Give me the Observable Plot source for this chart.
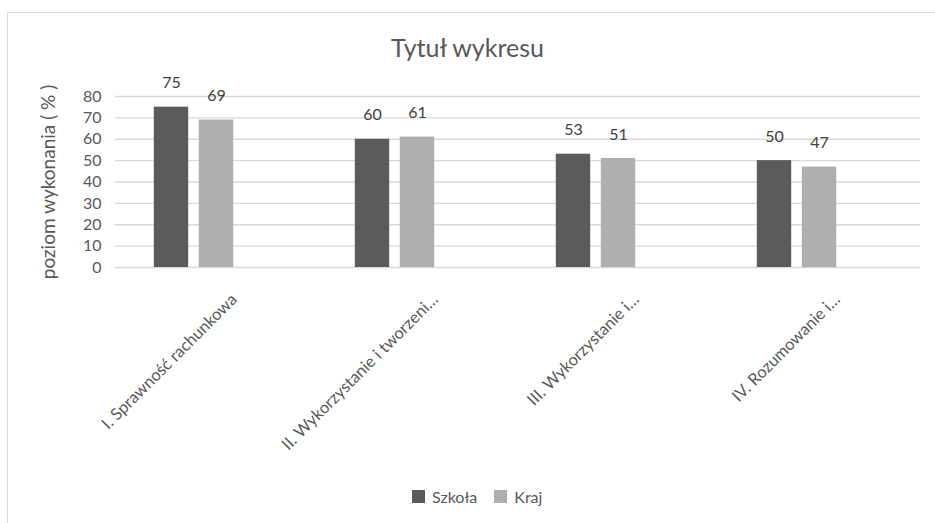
<!DOCTYPE html>
<html>
<head>
<meta charset="utf-8">
<script src="https://cdn.jsdelivr.net/npm/d3@7"></script>
<script src="https://cdn.jsdelivr.net/npm/@observablehq/plot@0.6"></script>
<style>
  body { margin: 0; background: #fff; font-family: Lato, "Open Sans", sans-serif; }
  #wrap { position: relative; width: 935px; height: 523px; overflow: hidden; background: #fff; }
  #frame { position: absolute; left: 7px; top: 12px; width: 940px; height: 520px; border: 1px solid #d9d9d9; pointer-events: none; z-index: 2; }
  #title { height: 70px; box-sizing: border-box; padding-top: 32px; font-size: 25px; line-height: 30px; text-align: center; color: #595959; }
  #legend { height: 53px; display: flex; align-items: center; font-size: 16px; color: #595959; }
  .sw { display: inline-block; width: 13px; height: 13px; margin-right: 7px; }
  .item { display: inline-flex; align-items: center; }
</style>
</head>
<body>
<div id="wrap">
  <div id="frame"></div>
  <div id="title">Tytuł wykresu</div>
  <div id="chart"></div>
  <div id="legend"></div>
</div>
<script>
const categories = [
  "I. Sprawność rachunkowa",
  "II. Wykorzystanie i tworzeni…",
  "III. Wykorzystanie i…",
  "IV. Rozumowanie i…"
];
const seriesNames = ["Szkoła", "Kraj"];
const szkola = [75, 60, 53, 50];
const kraj = [69, 61, 51, 47];
const yTicks = [0, 10, 20, 30, 40, 50, 60, 70, 80];
const yTitle = "poziom wykonania ( % )";
const colors = ["#5b5b5b", "#afafaf"];

const rowsSzkola = categories.map((c, i) => ({category: c, value: szkola[i]}));
const rowsKraj = categories.map((c, i) => ({category: c, value: kraj[i]}));

const plot = Plot.plot({
  width: 935,
  height: 400,
  marginLeft: 115,
  marginRight: 15,
  marginTop: 26,
  marginBottom: 203,
  style: {background: "transparent", fontFamily: "Lato, 'Open Sans', sans-serif", overflow: "visible"},
  x: {domain: categories, range: [91.7, 898.1], padding: 0, axis: null},
  y: {domain: [0, 80], axis: null},
  marks: [
    Plot.ruleY(yTicks, {stroke: "#d9d9d9", strokeWidth: 1.3}),
    Plot.axisY(yTicks, {tickSize: 0, tickPadding: 14, fontSize: 16, fill: "#595959", label: null}),
    Plot.text([{label: yTitle, mid: 40}], {y: "mid", text: "label", frameAnchor: "left", textAnchor: "middle", dx: -67, rotate: -90, fontSize: 19, fill: "#595959"}),
    Plot.barY(rowsSzkola, {x: "category", y: "value", fill: colors[0], insetLeft: 60.8, insetRight: 105.8}),
    Plot.barY(rowsKraj, {x: "category", y: "value", fill: colors[1], insetLeft: 105.8, insetRight: 60.8}),
    Plot.text(rowsSzkola, {x: "category", y: "value", text: d => String(d.value), dx: -22.5, dy: -24, fontSize: 16, fill: "#404040"}),
    Plot.text(rowsKraj, {x: "category", y: "value", text: d => String(d.value), dx: 22.5, dy: -24, fontSize: 16, fill: "#404040"}),
    Plot.text(categories, {x: d => d, text: d => d, frameAnchor: "bottom", rotate: -45, textAnchor: "end", dx: 44, dy: 33, fontSize: 16.5, fill: "#595959"})
  ]
});
document.getElementById("chart").appendChild(plot);

const legend = document.getElementById("legend");
const inner = document.createElement("div");
inner.style.marginLeft = "412px";
inner.style.display = "flex";
inner.style.alignItems = "center";
seriesNames.forEach((name, i) => {
  const item = document.createElement("span");
  item.className = "item";
  item.style.marginRight = i === 0 ? "17px" : "0";
  const sw = document.createElement("span");
  sw.className = "sw";
  sw.style.background = colors[i];
  item.appendChild(sw);
  item.appendChild(document.createTextNode(name));
  inner.appendChild(item);
});
legend.appendChild(inner);
</script>
</body>
</html>
